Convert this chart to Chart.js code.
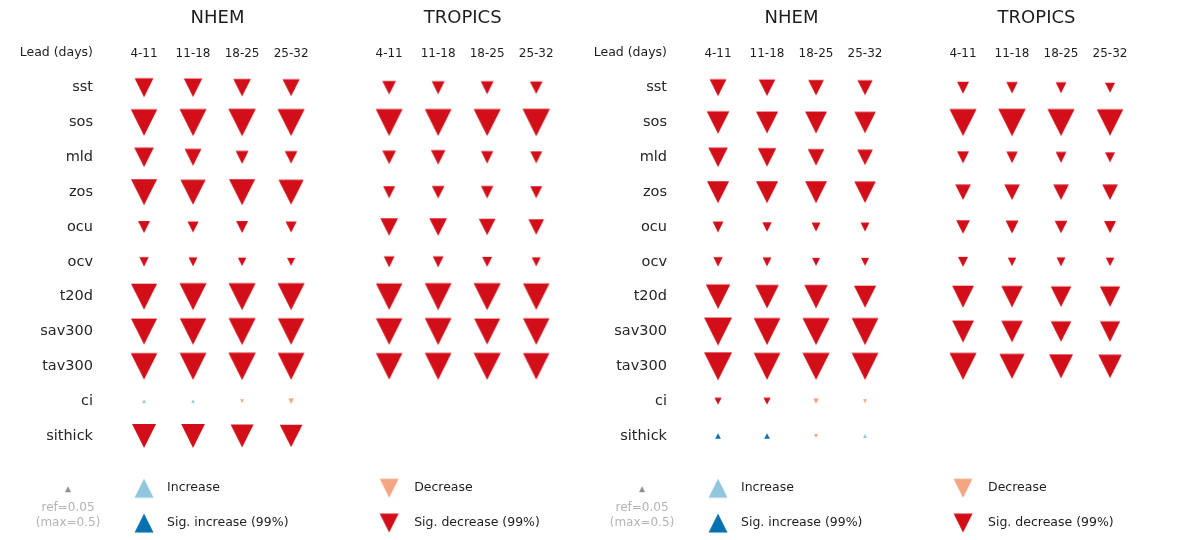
<!DOCTYPE html>
<html>
<head>
<meta charset="utf-8">
<script src="https://cdn.jsdelivr.net/npm/chart.js@4.4.1/dist/chart.umd.min.js"></script>
<style>
  html, body { margin: 0; padding: 0; background: #ffffff; }
  #wrap { position: relative; width: 1201px; height: 540px; overflow: hidden; background: #ffffff; }
  .panel { position: absolute; top: 0; width: 600px; height: 540px; }
</style>
</head>
<body>
<div id="wrap">
  <div class="panel" style="left:0px"><canvas id="panelA" width="600" height="540"></canvas></div>
  <div class="panel" style="left:574px"><canvas id="panelB" width="600" height="540"></canvas></div>
</div>
<script>
// ---- labels ----
const leadLabels = ['4-11', '11-18', '18-25', '25-32'];
const leadTitle = 'Lead (days)';
const regions = ['NHEM', 'TROPICS'];
const variables = ['sst', 'sos', 'mld', 'zos', 'ocu', 'ocv', 't20d', 'sav300', 'tav300', 'ci', 'sithick'];
const refValue = 0.05;
const maxValue = 0.5;

// ---- panel A: relative change per variable (rows) and lead window (columns) ----
const panelANhem = [
  [-0.49, -0.47, -0.43, -0.41],
  [-0.97, -1.01, -1.05, -1.02],
  [-0.53, -0.39, -0.23, -0.22],
  [-0.94, -0.88, -0.94, -0.88],
  [-0.20, -0.17, -0.20, -0.17],
  [-0.12, -0.11, -0.10, -0.09],
  [-0.94, -1.02, -1.02, -1.02],
  [-0.94, -0.97, -1.02, -0.97],
  [-0.98, -1.00, -1.04, -1.00],
  [0.020, 0.018, -0.020, -0.045],
  [-0.80, -0.78, -0.73, -0.71]
];
const panelANhemSig = [
  [1, 1, 1, 1], [1, 1, 1, 1], [1, 1, 1, 1], [1, 1, 1, 1], [1, 1, 1, 1], [1, 1, 1, 1],
  [1, 1, 1, 1], [1, 1, 1, 1], [1, 1, 1, 1], [0, 0, 0, 0], [1, 1, 1, 1]
];
const panelATropics = [
  [-0.26, -0.23, -0.23, -0.22],
  [-1.00, -0.99, -1.02, -1.04],
  [-0.26, -0.29, -0.21, -0.20],
  [-0.20, -0.22, -0.21, -0.20],
  [-0.43, -0.43, -0.38, -0.34],
  [-0.16, -0.16, -0.14, -0.11],
  [-0.97, -0.99, -1.02, -0.97],
  [-0.97, -0.99, -0.93, -0.97],
  [-0.97, -0.99, -1.02, -0.97],
  null,
  null
];
const panelATropicsSig = [
  [1, 1, 1, 1], [1, 1, 1, 1], [1, 1, 1, 1], [1, 1, 1, 1], [1, 1, 1, 1], [1, 1, 1, 1],
  [1, 1, 1, 1], [1, 1, 1, 1], [1, 1, 1, 1], null, null
];

// ---- panel B ----
const panelBNhem = [
  [-0.39, -0.38, -0.34, -0.32],
  [-0.71, -0.68, -0.66, -0.64],
  [-0.53, -0.47, -0.38, -0.34],
  [-0.68, -0.68, -0.66, -0.64],
  [-0.16, -0.12, -0.11, -0.11],
  [-0.12, -0.11, -0.09, -0.09],
  [-0.83, -0.76, -0.76, -0.68],
  [-1.08, -0.99, -1.02, -0.99],
  [-1.08, -0.99, -1.02, -0.99],
  [-0.070, -0.070, -0.045, -0.022],
  [0.045, 0.045, -0.020, 0.020]
];
const panelBNhemSig = [
  [1, 1, 1, 1], [1, 1, 1, 1], [1, 1, 1, 1], [1, 1, 1, 1], [1, 1, 1, 1], [1, 1, 1, 1],
  [1, 1, 1, 1], [1, 1, 1, 1], [1, 1, 1, 1], [1, 1, 0, 0], [1, 1, 0, 0]
];
const panelBTropics = [
  [-0.20, -0.18, -0.16, -0.14],
  [-1.02, -1.05, -1.02, -0.97],
  [-0.20, -0.18, -0.16, -0.14],
  [-0.34, -0.34, -0.34, -0.34],
  [-0.26, -0.23, -0.22, -0.20],
  [-0.14, -0.10, -0.11, -0.10],
  [-0.66, -0.64, -0.59, -0.57],
  [-0.66, -0.64, -0.59, -0.57],
  [-1.02, -0.88, -0.80, -0.76],
  null,
  null
];
const panelBTropicsSig = [
  [1, 1, 1, 1], [1, 1, 1, 1], [1, 1, 1, 1], [1, 1, 1, 1], [1, 1, 1, 1], [1, 1, 1, 1],
  [1, 1, 1, 1], [1, 1, 1, 1], [1, 1, 1, 1], null, null
];

// ---- styling ----
const FONT = '"DejaVu Sans", "Liberation Sans", sans-serif';
const COLORS = {
  sigDecrease: '#d20f19',
  decrease: '#f4a582',
  increase: '#92c5de',
  sigIncrease: '#0571b0',
  ref: '#8e8e8e'
};
const groupStart = [0, 5];          // x position of the first lead column in each region
const SIZE_SCALE = 26.9;            // marker width (px) = SIZE_SCALE * sqrt(|change|)

function markerWidth(v) { return SIZE_SCALE * Math.sqrt(Math.abs(v)); }

function markerColor(v, sig) {
  if (v < 0) return sig ? COLORS.sigDecrease : COLORS.decrease;
  return sig ? COLORS.sigIncrease : COLORS.increase;
}

// matplotlib-style triangles (width == height), centred on their bounding box
const markerCache = new Map();
function triangleMarker(width, up, color) {
  const key = width.toFixed(2) + (up ? 'u' : 'd') + color;
  if (markerCache.has(key)) return markerCache.get(key);
  const size = 2 * Math.ceil(width / 2 + 2);
  const c = document.createElement('canvas');
  c.width = size; c.height = size;
  const g = c.getContext('2d');
  const m = size / 2, h = width / 2;
  g.fillStyle = color;
  g.beginPath();
  if (up) {
    g.moveTo(m, m - h); g.lineTo(m + h, m + h); g.lineTo(m - h, m + h);
  } else {
    g.moveTo(m - h, m - h); g.lineTo(m + h, m - h); g.lineTo(m, m + h);
  }
  g.closePath();
  g.fill();
  markerCache.set(key, c);
  return c;
}

function buildPoints(values, sig, g) {
  const pts = [];
  values.forEach((row, i) => {
    if (!row) return;
    row.forEach((v, j) => {
      pts.push({ x: groupStart[g] + j, y: variables[i], v: v, sig: sig[i][j] === 1 });
    });
  });
  return pts;
}

function pointStyleFor(ctx) {
  const p = ctx.raw;
  if (!p) return 'circle';
  return triangleMarker(markerWidth(p.v), p.v > 0, markerColor(p.v, p.sig));
}

// titles, header and legend drawn around the plot
const decorPlugin = {
  id: 'decor',
  afterDraw(chart) {
    const { ctx } = chart;
    const x = chart.scales.x, y = chart.scales.y;
    ctx.save();
    ctx.textBaseline = 'middle';

    // region titles
    ctx.fillStyle = '#1e1e1e';
    ctx.font = '18px ' + FONT;
    ctx.textAlign = 'center';
    regions.forEach((r, g) => ctx.fillText(r, x.getPixelForValue(groupStart[g] + 1.5), 18));

    // header of the row labels
    ctx.font = '12.5px ' + FONT;
    ctx.textAlign = 'right';
    ctx.fillText(leadTitle, y.right - 2, 52.7);

    // legend
    const row1 = y.getPixelForValue(variables.length + 0.5);
    const row2 = y.getPixelForValue(variables.length + 1.5);
    const refX = x.getPixelForValue(-1.55);
    const incX = x.getPixelForValue(groupStart[0]);
    const decX = x.getPixelForValue(groupStart[1]);
    const wMax = markerWidth(maxValue);
    const wRef = markerWidth(refValue);
    const put = (img, px, py) => ctx.drawImage(img, px - img.width / 2, py - img.height / 2);

    put(triangleMarker(wRef, true, COLORS.ref), refX, row1 + 1);
    ctx.fillStyle = '#b4b4b4';
    ctx.font = '12px ' + FONT;
    ctx.textAlign = 'center';
    ctx.fillText('ref=' + refValue.toFixed(2), refX, row1 + 20);
    ctx.fillText('(max=' + maxValue + ')', refX, row1 + 34.5);

    put(triangleMarker(wMax, true, COLORS.increase), incX, row1);
    put(triangleMarker(wMax, true, COLORS.sigIncrease), incX, row2);
    put(triangleMarker(wMax, false, COLORS.decrease), decX, row1);
    put(triangleMarker(wMax, false, COLORS.sigDecrease), decX, row2);

    ctx.fillStyle = '#1e1e1e';
    ctx.font = '12.5px ' + FONT;
    ctx.textAlign = 'left';
    ctx.fillText('Increase', incX + 23, row1);
    ctx.fillText('Sig. increase (99%)', incX + 23, row2);
    ctx.fillText('Decrease', decX + 25, row1);
    ctx.fillText('Sig. decrease (99%)', decX + 25, row2);
    ctx.restore();
  }
};

function makePanel(canvasId, nhem, nhemSig, tropics, tropicsSig) {
  const datasets = [
    { label: regions[0], data: buildPoints(nhem, nhemSig, 0) },
    { label: regions[1], data: buildPoints(tropics, tropicsSig, 1) }
  ].map(d => Object.assign(d, {
    pointStyle: pointStyleFor,
    pointRadius: ctx => ctx.raw ? Math.max(markerWidth(ctx.raw.v) / 2, 0.5) : 1,
    showLine: false
  }));

  return new Chart(document.getElementById(canvasId), {
    type: 'scatter',
    data: { datasets },
    options: {
      responsive: false,
      animation: false,
      events: [],
      layout: { padding: { left: 0, right: 4, top: 46.3, bottom: 86.6 } },
      plugins: { legend: { display: false }, tooltip: { enabled: false } },
      scales: {
        x: {
          type: 'linear',
          position: 'top',
          min: -1,
          max: 9,
          grid: { display: false, drawTicks: false },
          border: { display: false },
          afterBuildTicks: s => {
            s.ticks = [0, 1, 2, 3, 5, 6, 7, 8].map(v => ({ value: v }));
          },
          afterFit: s => { s.height = 24; },
          ticks: {
            autoSkip: false,
            maxRotation: 0,
            padding: 9.4,
            color: '#1e1e1e',
            font: { family: FONT, size: 12 },
            callback: v => leadLabels[v >= groupStart[1] ? v - groupStart[1] : v]
          }
        },
        y: {
          type: 'category',
          labels: variables,
          offset: true,
          grid: { display: false, drawTicks: false },
          border: { display: false },
          afterFit: s => { s.width = 95; },
          ticks: {
            padding: 2,
            color: '#262626',
            font: { family: FONT, size: 14.5 }
          }
        }
      }
    },
    plugins: [decorPlugin]
  });
}

makePanel('panelA', panelANhem, panelANhemSig, panelATropics, panelATropicsSig);
makePanel('panelB', panelBNhem, panelBNhemSig, panelBTropics, panelBTropicsSig);
</script>
</body>
</html>
